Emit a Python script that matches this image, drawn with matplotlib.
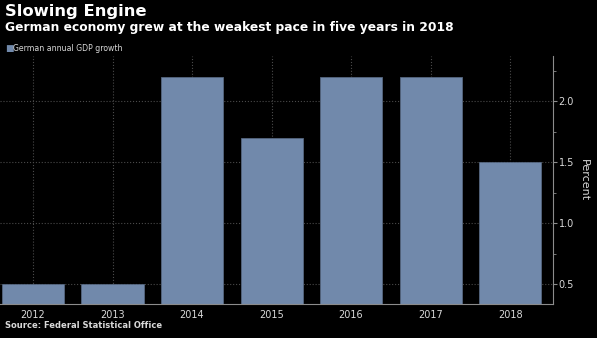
import numpy as np
import matplotlib.pyplot as plt

years = ["2012", "2013", "2014", "2015", "2016", "2017", "2018"]
growth = [0.5, 0.5, 2.2, 1.7, 2.2, 2.2, 1.5]
yticks = [0.5, 1.0, 1.5, 2.0]

bg = "black"
bar_c = "#7189ab"
txt = "#d9d9d9"

fig = plt.figure(figsize=(5.97, 3.38), dpi=100, facecolor=bg)
ax = fig.add_axes([0.0, 34 / 338, 553 / 597, (304 - 56) / 338], facecolor=bg)

x = np.arange(len(years))
ax.bar(x, growth, width=0.78, color=bar_c, edgecolor="#55667f", linewidth=0.6, zorder=2)

ax.set_xlim(-0.415, 6.54)
ax.set_ylim(0.337, 2.37)
ax.set_xticks(x)
ax.set_xticklabels(years)
ax.set_yticks(yticks)
ax.set_yticks(np.arange(0.75, 2.3, 0.5), minor=True)
ax.yaxis.tick_right()
ax.yaxis.set_label_position("right")
ax.set_ylabel("Percent", color=txt, fontsize=8, rotation=270, labelpad=11)

ax.grid(color="#4a4a4a", linestyle=":", linewidth=0.8, zorder=0)
for s in ["top", "left"]:
    ax.spines[s].set_visible(False)
for s in ["bottom", "right"]:
    ax.spines[s].set_color("#8c8c8c")
ax.tick_params(axis="x", length=0, colors=txt, labelsize=7, pad=4)
ax.tick_params(axis="y", which="major", length=3, colors="#8c8c8c", labelcolor=txt, labelsize=7, pad=1)
ax.tick_params(axis="y", which="minor", length=2, colors="#8c8c8c")

fig.text(0.008, 1 - 16 / 338, "Slowing Engine", color="white", fontsize=11.8, fontweight="bold")
fig.text(0.008, 1 - 31 / 338, "German economy grew at the weakest pace in five years in 2018",
         color="white", fontsize=8.8, fontweight="bold")
fig.text(0.009, 1 - 51 / 338, "\u25a0", color=bar_c, fontsize=6.5)
fig.text(0.022, 1 - 51 / 338, "German annual GDP growth", color=txt, fontsize=5.6)
fig.text(0.008, 1 - 328 / 338, "Source: Federal Statistical Office", color=txt, fontsize=6, fontweight="bold")

fig.savefig("out.png", dpi=100, facecolor=bg)
